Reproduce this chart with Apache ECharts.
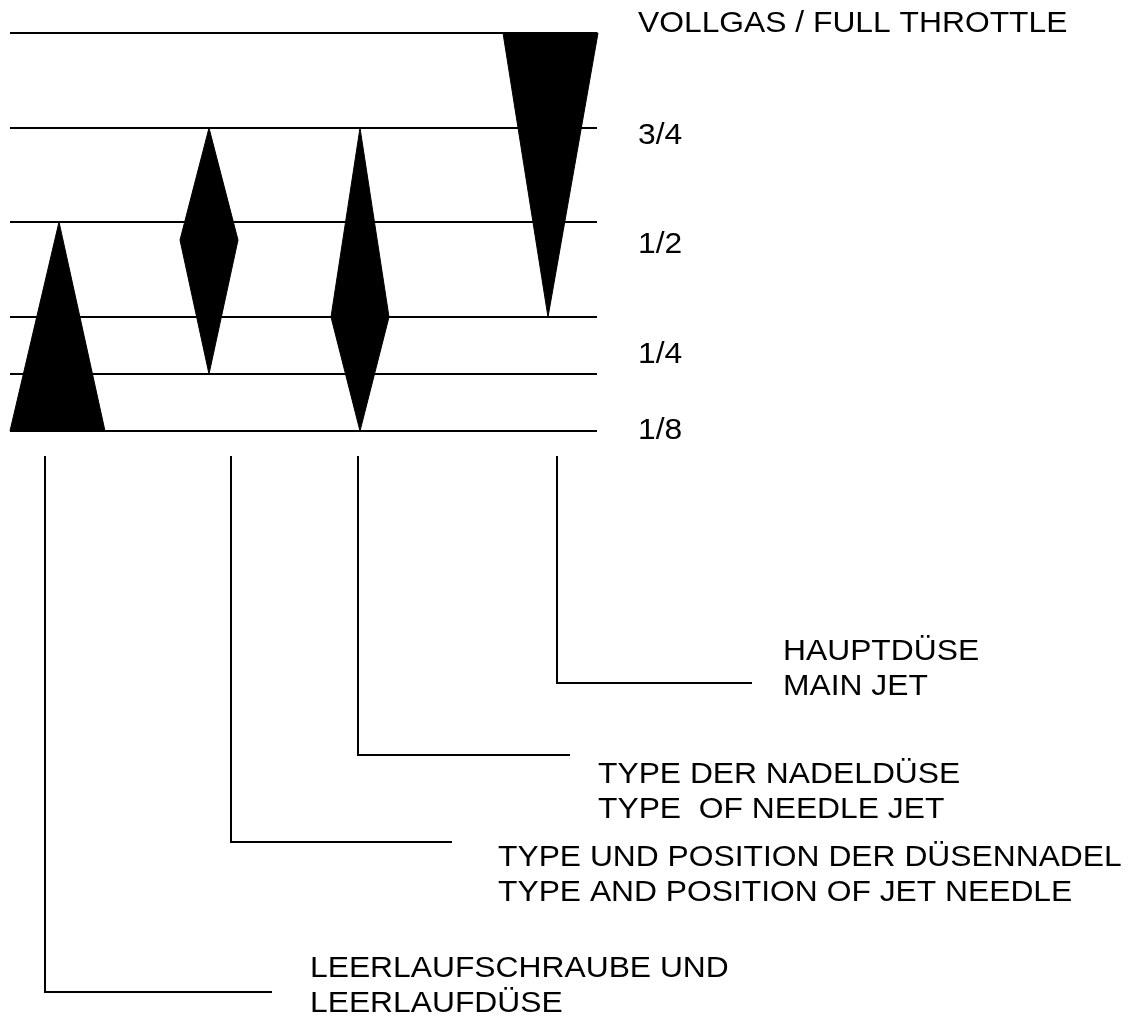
<!DOCTYPE html>
<html>
<head>
<meta charset="utf-8">
<script src="https://cdn.jsdelivr.net/npm/echarts@6/dist/echarts.min.js"></script>
<style>
html,body{margin:0;padding:0;background:#fff;}
#chart{width:1128px;height:1032px;}
</style>
</head>
<body>
<div id="chart"></div>
<script>
// ---- Data (diagram units) ----
// horizontal throttle-position lines
const levelLineY = [33, 128, 222, 317, 374, 431];
const levelLineStart = 10;
const levelLineEnd = 597;

// throttle labels on the right
const throttleLabels = ['VOLLGAS / FULL THROTTLE', '3/4', '1/2', '1/4', '1/8'];
const throttleLabelY = [24, 136, 245, 355, 431];
const throttleLabelX = 638;

// component working ranges (polygon vertices, [x, y])
const idleShape = [[10, 431], [59, 222], [105, 431]];
const needleShape = [[209, 128], [238, 240], [209, 374], [180, 240]];
const needleJetShape = [[360, 128], [389, 317], [360, 431], [331, 317]];
const mainJetShape = [[503, 33], [598, 33], [548, 317]];

// leader lines to component captions
const leaderTopY = 456;
const leaderX = [45, 231, 358, 557];
const leaderBottomY = [992, 842, 755, 683];
const leaderEndX = [272, 452, 570, 752];

// captions
const captionLines = [
  ['LEERLAUFSCHRAUBE UND', 'LEERLAUFDÜSE'],
  ['TYPE UND POSITION DER DÜSENNADEL', 'TYPE AND POSITION OF JET NEEDLE'],
  ['TYPE DER NADELDÜSE', 'TYPE  OF NEEDLE JET'],
  ['HAUPTDÜSE', 'MAIN JET']
];
const captionX = [310, 498, 598, 783];
const captionY = [969, 858, 775, 652];
const captionLineGap = 35;

// ---- Chart ----
const FONT = '"Liberation Sans", Arial, Helvetica, sans-serif';
const FS = 30;
const TEXT_STRETCH = 1.06;
const shapes = [idleShape, needleShape, needleJetShape, mainJetShape];

const chart = echarts.init(document.getElementById('chart'), null, {renderer: 'canvas'});

const textItems = [];
throttleLabels.forEach((t, i) => textItems.push([throttleLabelX, throttleLabelY[i], t]));
captionLines.forEach((lines, i) => lines.forEach((t, j) =>
  textItems.push([captionX[i], captionY[i] + j * captionLineGap, t])));

chart.setOption({
  animation: false,
  backgroundColor: '#ffffff',
  grid: {left: 0, top: 0, width: 1128, height: 1032},
  xAxis: {type: 'value', min: 0, max: 1128, show: false},
  yAxis: {type: 'value', min: 0, max: 1032, inverse: true, show: false},
  series: [
    {
      type: 'custom', name: 'levels', coordinateSystem: 'cartesian2d',
      data: levelLineY.map(y => [levelLineStart, y]),
      renderItem: (params, api) => {
        const y = api.value(1);
        const a = api.coord([levelLineStart, y]);
        const b = api.coord([levelLineEnd, y]);
        return {type: 'line', shape: {x1: a[0], y1: a[1], x2: b[0], y2: b[1]},
          style: {stroke: '#000', lineWidth: 2}};
      }
    },
    {
      type: 'custom', name: 'shapes', coordinateSystem: 'cartesian2d',
      data: shapes.map((s, i) => [s[0][0], s[0][1], i]),
      renderItem: (params, api) => {
        const pts = shapes[params.dataIndex].map(p => api.coord(p));
        return {type: 'polygon', shape: {points: pts},
          style: {fill: '#000', stroke: '#000', lineWidth: 1}};
      }
    },
    {
      type: 'custom', name: 'leaders', coordinateSystem: 'cartesian2d',
      data: leaderX.map((x, i) => [x, leaderBottomY[i], leaderEndX[i]]),
      renderItem: (params, api) => {
        const x = api.value(0), yb = api.value(1), xe = api.value(2);
        const pts = [api.coord([x, leaderTopY]), api.coord([x, yb]), api.coord([xe, yb])];
        return {type: 'polyline', shape: {points: pts},
          style: {stroke: '#000', lineWidth: 2, fill: null}};
      }
    },
    {
      type: 'custom', name: 'texts', coordinateSystem: 'cartesian2d',
      data: textItems,
      renderItem: (params, api) => {
        const item = textItems[params.dataIndex];
        const p = api.coord([item[0], item[1]]);
        return {type: 'text', x: p[0], y: p[1], scaleX: TEXT_STRETCH,
          style: {text: item[2], fill: '#000', font: FS + 'px ' + FONT,
            align: 'left', verticalAlign: 'middle'}};
      }
    }
  ]
});
</script>
</body>
</html>
